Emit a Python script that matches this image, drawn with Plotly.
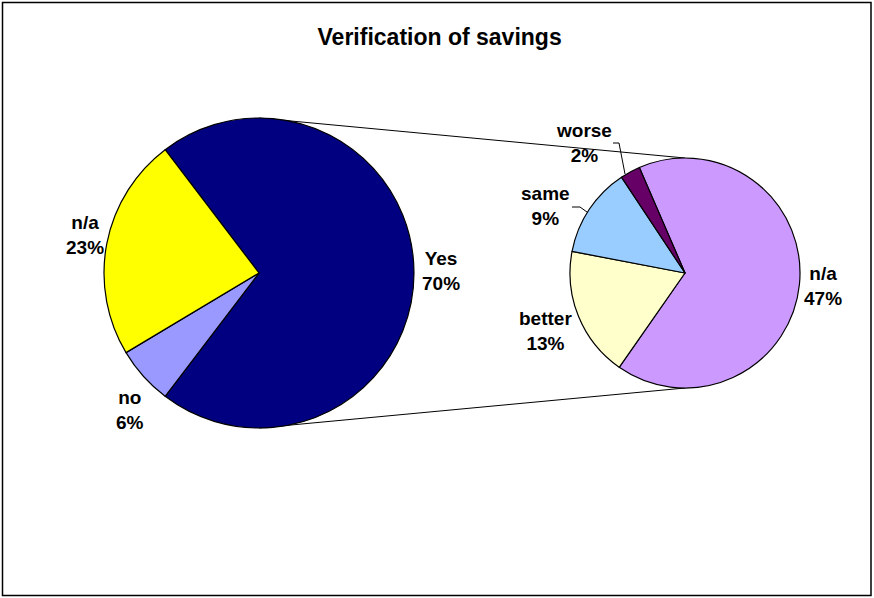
import plotly.graph_objects as go

# Main breakdown
main_labels = ["Yes", "no", "n/a"]
main_values = [70, 6, 23]
main_colors = ["#000080", "#9999FF", "#FFFF00"]

# Breakdown of the "Yes" share (percent of all answers)
sub_labels = ["n/a", "better", "same", "worse"]
sub_values = [47, 13, 9, 2]
sub_colors = ["#CC99FF", "#FFFFCC", "#99CCFF", "#660066"]

W, H = 874, 598
FONT = "Arial, Liberation Sans, sans-serif"

# Pie geometry in pixels: centre x, centre y (from top), radius
L_CX, L_CY, L_R = 259, 273, 155
R_CX, R_CY, R_R = 685, 273, 115


def dom(cx, cy, r):
    return dict(x=[(cx - r) / W, (cx + r) / W],
                y=[1 - (cy + r) / H, 1 - (cy - r) / H])


def px(x, y):
    return x / W, 1 - y / H


# first slice of the main pie is centred on the 3 o'clock direction
main_rotation = 90 - (main_values[0] / sum(main_values) * 360) / 2
# the detail pie starts just left of 12 o'clock
sub_rotation = -23.4

fig = go.Figure()
fig.add_trace(go.Pie(
    labels=main_labels, values=main_values, sort=False, direction="clockwise",
    rotation=main_rotation,
    marker=dict(colors=main_colors, line=dict(color="black", width=1.2)),
    textinfo="none", domain=dom(L_CX, L_CY, L_R), showlegend=False,
))
fig.add_trace(go.Pie(
    labels=sub_labels, values=sub_values, sort=False, direction="clockwise",
    rotation=sub_rotation,
    marker=dict(colors=sub_colors, line=dict(color="black", width=1.2)),
    textinfo="none", domain=dom(R_CX, R_CY, R_R), showlegend=False,
))

# Label text positions (pixel centres)
main_pos = [(441, 271), (130, 410), (85, 235)]
sub_pos = [(823, 286), (545, 331), (545, 206), (584, 143)]

LABEL_FONT = dict(family=FONT, size=19, color="black")
anns = []
for labs, vals, poss in ((main_labels, main_values, main_pos),
                         (sub_labels, sub_values, sub_pos)):
    for lab, val, (x, y) in zip(labs, vals, poss):
        ax, ay = px(x, y)
        anns.append(dict(x=ax, y=ay, xref="paper", yref="paper", showarrow=False,
                         xanchor="center", yanchor="middle", align="center",
                         text=f"<b>{lab}</b><br><b>{val}%</b>", font=LABEL_FONT))

shapes = []
# connectors between the two pies
for sgn in (-1, 1):
    x0, y0 = px(L_CX, L_CY + sgn * L_R)
    x1, y1 = px(R_CX, R_CY + sgn * R_R)
    shapes.append(dict(type="line", xref="paper", yref="paper", x0=x0, y0=y0,
                       x1=x1, y1=y1, line=dict(color="black", width=1), layer="below"))


def leader(points):
    p = [px(x, y) for x, y in points]
    path = "M " + " L ".join(f"{a},{b}" for a, b in p)
    return dict(type="path", xref="paper", yref="paper", path=path,
                line=dict(color="black", width=1))


shapes.append(leader([(613, 143), (619, 143), (625, 174)]))
shapes.append(leader([(572, 207), (580, 207), (587, 212)]))

# outer frame
shapes.append(dict(type="rect", xref="paper", yref="paper",
                   x0=2.5 / W, x1=871 / W, y0=1 - 595.5 / H, y1=1 - 2.5 / H,
                   line=dict(color="black", width=1.5)))

fig.update_layout(
    width=W, height=H, margin=dict(l=0, r=0, t=0, b=0),
    paper_bgcolor="white", plot_bgcolor="white",
    font=dict(family=FONT, size=19, color="black"),
    title=dict(text="<b>Verification of savings</b>", x=0.503, xanchor="center",
               y=1 - 37 / H, yanchor="middle", font=dict(family=FONT, size=23, color="black")),
    annotations=anns,
    shapes=shapes,
)

fig.write_html("out.html")
